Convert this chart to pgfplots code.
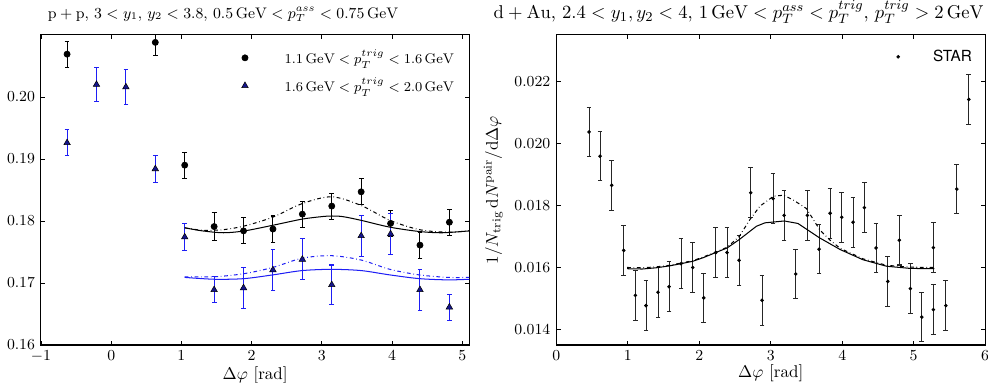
\documentclass[border=0pt]{standalone}
\usepackage{pgfplots}
\pgfplotsset{compat=1.18}
\usepackage{fontspec}
\newfontfamily\heros{TeX Gyre Heros}
\definecolor{tri}{RGB}{20,20,140}
\definecolor{bl}{RGB}{30,30,245}
\begin{document}
\begin{tikzpicture}
\useasboundingbox (0,0) rectangle (580.9pt,224.6pt);
\pgfplotsset{
  myax/.style={
    scale only axis,
    anchor=south west,
    height=182.3pt,
    axis line style={line width=0.6pt},
    tick style={line width=0.5pt, black},
    major tick length=2.5pt,
    tick align=inside,
    ticklabel style={font=\small},
    scaled y ticks=false,
    scaled x ticks=false,
    xlabel={$\Delta\varphi$ [rad]},
    xlabel style={yshift=4.5pt},
    every axis title shift=0pt,
    title style={at={(0.425,1)},anchor=base,yshift=9.8pt},
    legend cell align=left,
    legend style={draw=none,fill=none},
  },
  ebar/.style={error bars/.cd, y dir=both, y explicit,
    error bar style={line width=0.6pt,#1},
    error mark options={rotate=90,mark size=1.4pt,line width=0.6pt,#1}},
  dd/.style={dash pattern=on 2.2pt off 1.6pt on 0.4pt off 1.6pt},
}
% ---------------- left panel ----------------
\begin{axis}[myax, at={(24.1pt,21.76pt)}, width=251.8pt,
  xmin=-1, xmax=5.1, ymin=0.16, ymax=0.21,
  xtick={-1,0,1,2,3,4,5}, ytick={0.16,0.17,0.18,0.19,0.20},
  yticklabel style={/pgf/number format/fixed,/pgf/number format/fixed zerofill,/pgf/number format/precision=2},
  title={\fontsize{9}{11}\selectfont $\mathrm{p}+\mathrm{p}$, $3<y_1$, $y_2<3.8$, $0.5\,\mathrm{GeV}<p_T^{ass}<0.75\,\mathrm{GeV}$},
  legend style={at={(0.985,0.975)},anchor=north east,font=\fontsize{8.2}{10}\selectfont,row sep=3pt},
  legend image code/.code={\draw[#1] plot coordinates {(0cm,0cm)}; \path[draw=none,fill=none] (0cm,0cm) -- (0.75cm,0cm);},
]
\addplot[only marks, mark=*, mark size=1.8pt, black, ebar=black] table[x=x,y=y,y error=e]{
x y e
-0.6283 0.2069 0.0021
0.6283 0.2088 0.0021
1.0472 0.1890 0.0021
1.4661 0.1791 0.0022
1.8850 0.1784 0.0021
2.3038 0.1787 0.0021
2.7227 0.1811 0.0021
3.1416 0.1824 0.0021
3.5605 0.1847 0.0021
3.9794 0.1796 0.0021
4.3982 0.1761 0.0021
4.8171 0.1798 0.0021
};
\addlegendentry{$1.1\,\mathrm{GeV}<p_T^{trig}<1.6\,\mathrm{GeV}$}
\addplot[only marks, mark=triangle*, mark size=2.2pt, mark options={fill=tri,draw=black,line width=0.3pt}, ebar=bl] table[x=x,y=y,y error=e]{
x y e
-0.6283 0.1926 0.0021
-0.2094 0.2020 0.0028
0.2094 0.2016 0.0028
0.6283 0.1884 0.0022
1.0472 0.1774 0.0022
1.4661 0.1689 0.0021
1.8850 0.1692 0.0033
2.3038 0.1721 0.0033
2.7227 0.1738 0.0033
3.1416 0.1697 0.0032
3.5605 0.1776 0.0033
3.9794 0.1779 0.0033
4.3982 0.1689 0.0033
4.8171 0.1661 0.0021
};
\addlegendentry{$1.6\,\mathrm{GeV}<p_T^{trig}<2.0\,\mathrm{GeV}$}
\addplot[forget plot, black, line width=0.6pt, smooth] coordinates {
(1.047,0.1789) (1.3,0.1784) (1.6,0.1781) (1.9,0.1784) (2.3,0.1793) (2.72,0.1803)
(3.0,0.1807) (3.14,0.1808) (3.3,0.1807) (3.56,0.1801) (3.97,0.1790) (4.39,0.1783)
(4.72,0.1781) (5.1,0.1784)};
\addplot[forget plot, black, line width=0.6pt, dd, smooth] coordinates {
(1.047,0.1789) (1.3,0.1785) (1.6,0.1786) (1.9,0.1792) (2.3,0.1806) (2.72,0.1828)
(3.14,0.1839) (3.56,0.1825) (3.97,0.1801) (4.39,0.1786) (4.77,0.1782) (5.1,0.1784)};
\addplot[forget plot, bl, line width=0.6pt, smooth] coordinates {
(1.047,0.1709) (1.47,0.1706) (1.89,0.1707) (2.30,0.1713) (2.72,0.1720) (3.14,0.1722)
(3.56,0.1720) (3.97,0.1713) (4.39,0.1707) (4.8,0.1705) (5.1,0.1706)};
\addplot[forget plot, bl, line width=0.6pt, dd, smooth] coordinates {
(1.047,0.1710) (1.47,0.1710) (1.89,0.1715) (2.30,0.1725) (2.72,0.1740) (3.14,0.1744)
(3.56,0.1737) (3.97,0.1722) (4.39,0.1713) (4.8,0.1709) (5.1,0.1709)};
\end{axis}
% ---------------- right panel ----------------
\begin{axis}[myax, at={(327.1pt,21.76pt)}, width=252.1pt,
  xmin=0, xmax=6, ymin=0.0135, ymax=0.0235,
  xtick={0,1,2,3,4,5,6}, ytick={0.014,0.016,0.018,0.020,0.022},
  yticklabel style={/pgf/number format/fixed,/pgf/number format/fixed zerofill,/pgf/number format/precision=3},
  ylabel={$1/N_{\mathrm{trig}}\,\mathrm{d}N^{\mathrm{pair}}/\mathrm{d}\Delta\varphi$},
  title={\fontsize{10.9}{13}\selectfont $\mathrm{d}+\mathrm{Au}$, $2.4<y_1,y_2<4$, $1\,\mathrm{GeV}<p_T^{ass}<p_T^{trig}$, $p_T^{trig}>2\,\mathrm{GeV}$},
  legend style={at={(0.99,0.975)},anchor=north east,font=\heros\fontsize{9}{11}\selectfont},
  legend image code/.code={\draw[#1] plot coordinates {(0cm,0cm)}; \path[draw=none,fill=none] (0cm,0cm) -- (0.65cm,0cm);},
]
\addplot[only marks, mark=*, mark size=0.85pt, black, ebar=black!85] table[x=x,y=y,y error=e]{
x y e
0.458 0.02037 0.0008
0.612 0.01959 0.0008
0.775 0.01865 0.0008
0.943 0.01655 0.0008
1.106 0.01510 0.0008
1.255 0.01477 0.0008
1.423 0.01520 0.0008
1.577 0.01538 0.0008
1.745 0.01612 0.0008
1.909 0.01600 0.0008
2.063 0.01502 0.0008
2.231 0.01648 0.0008
2.389 0.01648 0.0008
2.557 0.01623 0.0008
2.721 0.01841 0.0008
2.879 0.01494 0.0008
3.033 0.01822 0.0008
3.187 0.01768 0.0008
3.350 0.01579 0.0008
3.513 0.01768 0.0008
3.677 0.01659 0.0008
3.831 0.01775 0.0008
3.994 0.01762 0.0008
4.152 0.01746 0.0008
4.311 0.01793 0.0008
4.474 0.01663 0.0008
4.638 0.01555 0.0008
4.800 0.01688 0.0008
4.954 0.01532 0.0008
5.114 0.01440 0.0008
5.276 0.01464 0.0008
5.276 0.01664 0.0008
5.450 0.01477 0.0008
5.604 0.01853 0.0008
5.772 0.02142 0.0008
};
\addlegendentry{STAR}
\addplot[forget plot, black, line width=0.6pt] coordinates {
(0.99,0.01596) (1.2,0.01595) (1.4,0.01599) (1.58,0.01605) (1.74,0.01612) (1.91,0.01620)
(2.06,0.01632) (2.23,0.01648) (2.39,0.01663) (2.56,0.01690) (2.80,0.01733) (2.92,0.01744)
(3.19,0.01750) (3.38,0.01742) (3.68,0.01696) (3.97,0.01658) (4.29,0.01625) (4.62,0.01604)
(4.95,0.01597) (5.29,0.01596)};
\addplot[forget plot, black, line width=0.6pt, dd] coordinates {
(0.99,0.01600) (1.2,0.01599) (1.4,0.01602) (1.58,0.01607) (1.74,0.01614) (1.91,0.01622)
(2.06,0.01634) (2.23,0.01650) (2.39,0.01665) (2.56,0.01700) (2.71,0.01755) (2.85,0.01798)
(3.04,0.01830) (3.18,0.01833) (3.32,0.01817) (3.50,0.01790) (3.69,0.01720) (3.83,0.01688)
(3.97,0.01662) (4.29,0.01628) (4.62,0.01607) (4.95,0.01601) (5.29,0.01600)};
\end{axis}
\end{tikzpicture}
\end{document}
